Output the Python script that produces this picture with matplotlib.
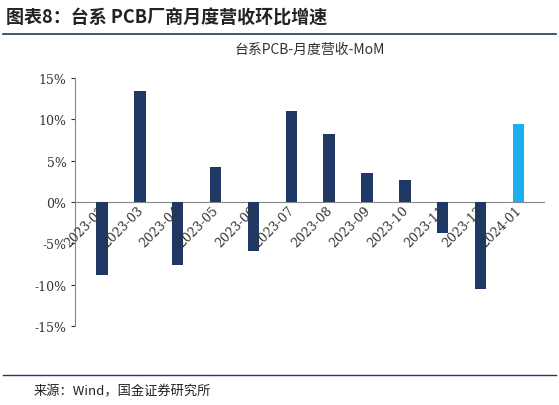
import matplotlib.pyplot as plt
from matplotlib.ticker import FuncFormatter

plt.rcParams['font.family'] = ['Noto Sans CJK SC', 'DejaVu Sans']

months = ['2023-02', '2023-03', '2023-04', '2023-05', '2023-06', '2023-07',
          '2023-08', '2023-09', '2023-10', '2023-11', '2023-12', '2024-01']
mom = [-8.8, 13.5, -7.6, 4.2, -5.9, 11.0, 8.2, 3.5, 2.7, -3.8, -10.5, 9.5]
colors = ['#1f3864'] * 11 + ['#1aaff0']

fig = plt.figure(figsize=(5.59, 4.06), dpi=100)
ax = fig.add_axes([0.135, 0.195, 0.84, 0.61])

x = range(len(months))
ax.bar(x, mom, width=0.3, color=colors, zorder=3)
ax.set_ylim(-15, 15)
ax.set_yticks(range(-15, 16, 5))
ax.yaxis.set_major_formatter(FuncFormatter(lambda v, p: '%d%%' % v))
ax.set_xlim(-0.7, len(months) - 0.3)
ax.set_xticks([])
for i, m in enumerate(months):
    ax.text(i + 0.15, -0.2, m, rotation=45, ha='right', va='top', fontsize=9,
            family=['DejaVu Serif'], color='#333333')
ax.axhline(0, color='#888888', lw=0.8)
for s in ['top', 'right', 'bottom']:
    ax.spines[s].set_visible(False)
ax.spines['left'].set_color('#888888')
ax.tick_params(axis='y', labelsize=9, length=3, colors='#333333')
for t in ax.get_yticklabels():
    t.set_family('DejaVu Serif')
ax.set_title('台系PCB-月度营收-MoM', fontsize=10, color='#333333', pad=18)

fig.text(0.01, 0.955, '图表8：台系 PCB厂商月度营收环比增速', fontsize=13,
         fontweight='bold', style='italic', color='#222222', va='center')
fig.add_artist(plt.Line2D([0.005, 0.995], [0.915, 0.915], color='#1f3864', lw=1.2))
fig.add_artist(plt.Line2D([0.005, 0.995], [0.075, 0.075], color='#1f3864', lw=1))
fig.text(0.06, 0.035, '来源：Wind，国金证券研究所', fontsize=9.5, color='#222222', va='center')

fig.savefig('out.png')
